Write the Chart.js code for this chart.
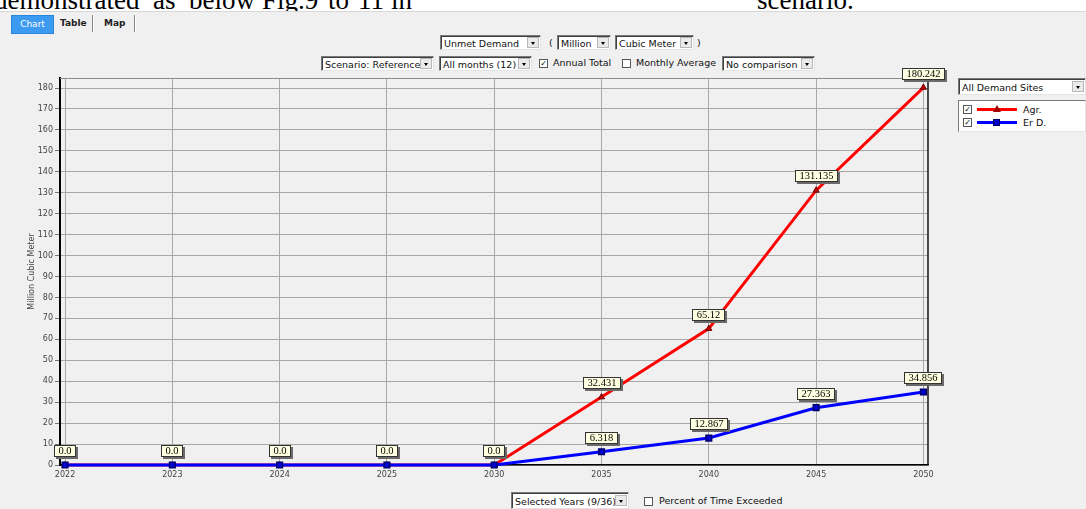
<!DOCTYPE html>
<html lang="en">
<head>
<meta charset="utf-8" />
<title>Unmet Demand - Reference</title>
<script src="https://cdn.jsdelivr.net/npm/chart.js@4.4.1/dist/chart.umd.min.js"></script>
<style>
  html, body { margin: 0; padding: 0; background: #fff; }
  body { width: 1086px; height: 509px; position: relative; overflow: hidden; font-family: 'DejaVu Sans', sans-serif; }
  .w { position: absolute; top: -13px; font: 27px/27px 'Liberation Serif', serif; color: #000; white-space: nowrap; }
  #panel { position: absolute; left: 0; top: 11px; width: 1086px; height: 498px; background: #f0f0f0; border-top: 1px solid #d8d8d8; }
  .tab { position: absolute; top: 15px; height: 17px; line-height: 17px; font-size: 9px; font-weight: bold; color: #222; }
  .tab.on { background: #3c9af0; color: #fff; text-align: center; border: 1px solid #2a86dd; font-weight: normal; }
  .sep { position: absolute; top: 15px; width: 1px; height: 17px; background: #888; border-right: 1px solid #fff; }
  .dd { position: absolute; height: 15px; line-height: 15px; background: #fff; border: 1px solid; border-color: #7a7a7a #e4e4e4 #e4e4e4 #7a7a7a; box-shadow: inset 1px 1px 0 #404040; font-size: 9.5px; color: #111; padding-left: 3px; box-sizing: border-box; white-space: nowrap; }
  .dd .arr { position: absolute; right: 1px; top: 1px; width: 12px; height: 11px; background: #eaeaea; border: 1px solid #b8b8b8; box-sizing: border-box; }
  .dd .arr::after { content: ''; position: absolute; left: 3px; top: 4px; border-left: 2.5px solid transparent; border-right: 2.5px solid transparent; border-top: 3px solid #000; }
  .txt { position: absolute; font-size: 9.5px; color: #111; white-space: nowrap; }
  .cb { position: absolute; width: 9px; height: 9px; background: #fff; border: 1px solid #555; box-sizing: border-box; font-size: 8px; line-height: 8px; text-align: center; color: #000; }
  #legend { position: absolute; left: 958px; top: 100px; width: 128px; height: 32px; background: #fff; border: 1px solid; border-color: #7a7a7a #e4e4e4 #e4e4e4 #7a7a7a; box-sizing: border-box; }
  .li { position: absolute; left: 4px; height: 11px; font-size: 9.5px; line-height: 11px; color: #111; }
  .li .cb { left: 0; top: 1px; }
  .li .ln { position: absolute; left: 14px; top: 4px; width: 40px; height: 3px; }
  .li .mk { position: absolute; }
  .li .lab { position: absolute; left: 60px; top: 0; white-space: nowrap; }
  canvas { position: absolute; left: 0; top: 0; }
</style>
</head>
<body>
  <span class="w" style="left:-6px">demonstrated</span>
  <span class="w" style="left:153px">as</span>
  <span class="w" style="left:189px">below</span>
  <span class="w" style="left:262px">Fig.9</span>
  <span class="w" style="left:328px">to</span>
  <span class="w" style="left:358px">11</span>
  <span class="w" style="left:391px">in</span>
  <span class="w" style="left:757px">scenario.</span>

  <div id="panel"></div>
  <div class="tab on" style="left:11px;width:41px">Chart</div>
  <div class="tab" style="left:60px">Table</div>
  <div class="sep" style="left:92px"></div>
  <div class="tab" style="left:104px">Map</div>
  <div class="sep" style="left:134px"></div>

  <div class="dd" style="left:440px;top:35px;width:101px">Unmet Demand<span class="arr"></span></div>
  <div class="txt" style="left:549px;top:37px">(</div>
  <div class="dd" style="left:557px;top:35px;width:54px">Million<span class="arr"></span></div>
  <div class="dd" style="left:615px;top:35px;width:79px">Cubic Meter<span class="arr"></span></div>
  <div class="txt" style="left:697px;top:37px">)</div>

  <div class="dd" style="left:321px;top:56px;width:113px">Scenario: Reference<span class="arr"></span></div>
  <div class="dd" style="left:439px;top:56px;width:93px">All months (12)<span class="arr"></span></div>
  <div class="cb" style="left:539px;top:59px">✓</div>
  <div class="txt" style="left:553px;top:57px">Annual Total</div>
  <div class="cb" style="left:622px;top:59px"></div>
  <div class="txt" style="left:636px;top:57px">Monthly Average</div>
  <div class="dd" style="left:722px;top:56px;width:93px">No comparison<span class="arr"></span></div>

  <div class="dd" style="left:958px;top:78px;width:128px;height:17px;line-height:17px">All Demand Sites<span class="arr" style="top:2px"></span></div>
  <div id="legend">
    <div class="li" style="top:3px"><span class="cb">✓</span><span class="ln" style="background:#ff0000"></span>
      <span class="mk" style="left:30px;top:1px;width:0;height:0;border-left:4px solid transparent;border-right:4px solid transparent;border-bottom:7px solid #a00000"></span>
      <span class="lab">Agr.</span></div>
    <div class="li" style="top:16px"><span class="cb">✓</span><span class="ln" style="background:#0000ff"></span>
      <span class="mk" style="left:30px;top:2px;width:7px;height:7px;background:#0000c8;border:1px solid #000060;box-sizing:border-box"></span>
      <span class="lab">Er D.</span></div>
  </div>

  <div class="dd" style="left:511px;top:492px;width:118px;height:17px;line-height:17px">Selected Years (9/36)<span class="arr" style="top:2px"></span></div>
  <div class="cb" style="left:644px;top:497px"></div>
  <div class="txt" style="left:659px;top:495px">Percent of Time Exceeded</div>

  <canvas id="c" width="1086" height="509"></canvas>

<script>
const years = ['2022', '2023', '2024', '2025', '2030', '2035', '2040', '2045', '2050'];
const agr = [0, 0, 0, 0, 0, 32.431, 65.12, 131.135, 180.242];
const erD = [0, 0, 0, 0, 0, 6.318, 12.867, 27.363, 34.856];
const yMax = 184.8;

function fmt(v) {
  return v === 0 ? '0.0' : String(v);
}

// cream value boxes above each point
const valueBoxes = {
  id: 'valueBoxes',
  afterDatasetsDraw(chart) {
    const ctx = chart.ctx;
    ctx.save();
    ctx.font = '10.5px "Liberation Serif", serif';
    chart.data.datasets.forEach((ds, di) => {
      const meta = chart.getDatasetMeta(di);
      meta.data.forEach((pt, i) => {
        const txt = fmt(ds.data[i].y);
        const w = Math.round(ctx.measureText(txt).width + 9);
        const h = 12;
        const x = Math.round(pt.x - w / 2);
        const y = Math.round(pt.y - 8 - h);
        ctx.fillStyle = '#6a6a6a';
        ctx.fillRect(x + 2, y + 2, w, h);
        ctx.fillStyle = '#ffffe1';
        ctx.fillRect(x, y, w, h);
        ctx.strokeStyle = '#333';
        ctx.lineWidth = 1;
        ctx.strokeRect(x + 0.5, y + 0.5, w - 1, h - 1);
        ctx.fillStyle = '#000';
        ctx.textAlign = 'center';
        ctx.textBaseline = 'middle';
        ctx.fillText(txt, x + w / 2, y + h / 2 + 0.5);
      });
    });
    ctx.restore();
  }
};

// top / right frame lines of the plot
const frame = {
  id: 'frame',
  beforeDatasetsDraw(chart) {
    const { ctx, chartArea: a } = chart;
    ctx.save();
    ctx.strokeStyle = '#8c8c8c';
    ctx.lineWidth = 1;
    ctx.beginPath();
    ctx.moveTo(a.left, a.top + 0.5);
    ctx.lineTo(a.right, a.top + 0.5);
    ctx.stroke();
    ctx.strokeStyle = '#111';
    ctx.lineWidth = 1.5;
    ctx.beginPath();
    ctx.moveTo(a.right, a.top - 4);
    ctx.lineTo(a.right, a.bottom);
    ctx.stroke();
    ctx.restore();
  }
};

new Chart(document.getElementById('c'), {
  type: 'line',
  data: {
    datasets: [
      {
        label: 'Agr.',
        data: agr.map((v, i) => ({ x: i, y: v })),
        borderColor: '#ff0000',
        borderWidth: 3,
        pointStyle: 'triangle',
        pointRadius: 3.5,
        pointBackgroundColor: '#c00000',
        pointBorderColor: '#700000',
        pointBorderWidth: 1,
        order: 1
      },
      {
        label: 'Er D.',
        data: erD.map((v, i) => ({ x: i, y: v })),
        borderColor: '#0000ff',
        borderWidth: 3,
        pointStyle: 'rect',
        pointRadius: 4,
        pointBackgroundColor: '#0000d0',
        pointBorderColor: '#000070',
        pointBorderWidth: 1.5,
        order: 0
      }
    ]
  },
  options: {
    responsive: false,
    animation: false,
    clip: false,
    layout: { padding: { left: 0, top: 78, right: 158, bottom: 0 } },
    plugins: { legend: { display: false }, tooltip: { enabled: false } },
    scales: {
      x: {
        type: 'linear',
        min: -0.047,
        max: 8.043,
        afterBuildTicks: (s) => { s.ticks = s.ticks.filter((t) => Number.isInteger(t.value)); },
        afterFit: (s) => { s.height = 44; },
        ticks: {
          stepSize: 1,
          includeBounds: false,
          autoSkip: false,
          maxRotation: 0,
          padding: 5,
          color: '#444',
          font: { family: 'DejaVu Sans', size: 8 },
          callback: (v) => years[v]
        },
        grid: { color: '#a8a8a8', lineWidth: 1, drawTicks: false },
        border: { color: '#000', width: 1.5 }
      },
      y: {
        min: 0,
        max: yMax,
        afterBuildTicks: (s) => { s.ticks = s.ticks.filter((t) => t.value % 10 === 0); },
        afterFit: (s) => { s.width = 60; },
        ticks: {
          stepSize: 10,
          includeBounds: false,
          padding: 2,
          color: '#444',
          font: { family: 'DejaVu Sans', size: 8 }
        },
        grid: { color: '#a8a8a8', lineWidth: 1, tickLength: 5, tickColor: '#777' },
        border: { color: '#000', width: 2 },
        title: {
          display: true,
          text: 'Million Cubic Meter',
          color: '#444',
          font: { family: 'DejaVu Sans', size: 8 },
          padding: { top: 27, bottom: 0 }
        }
      }
    }
  },
  plugins: [frame, valueBoxes]
});
</script>
</body>
</html>
